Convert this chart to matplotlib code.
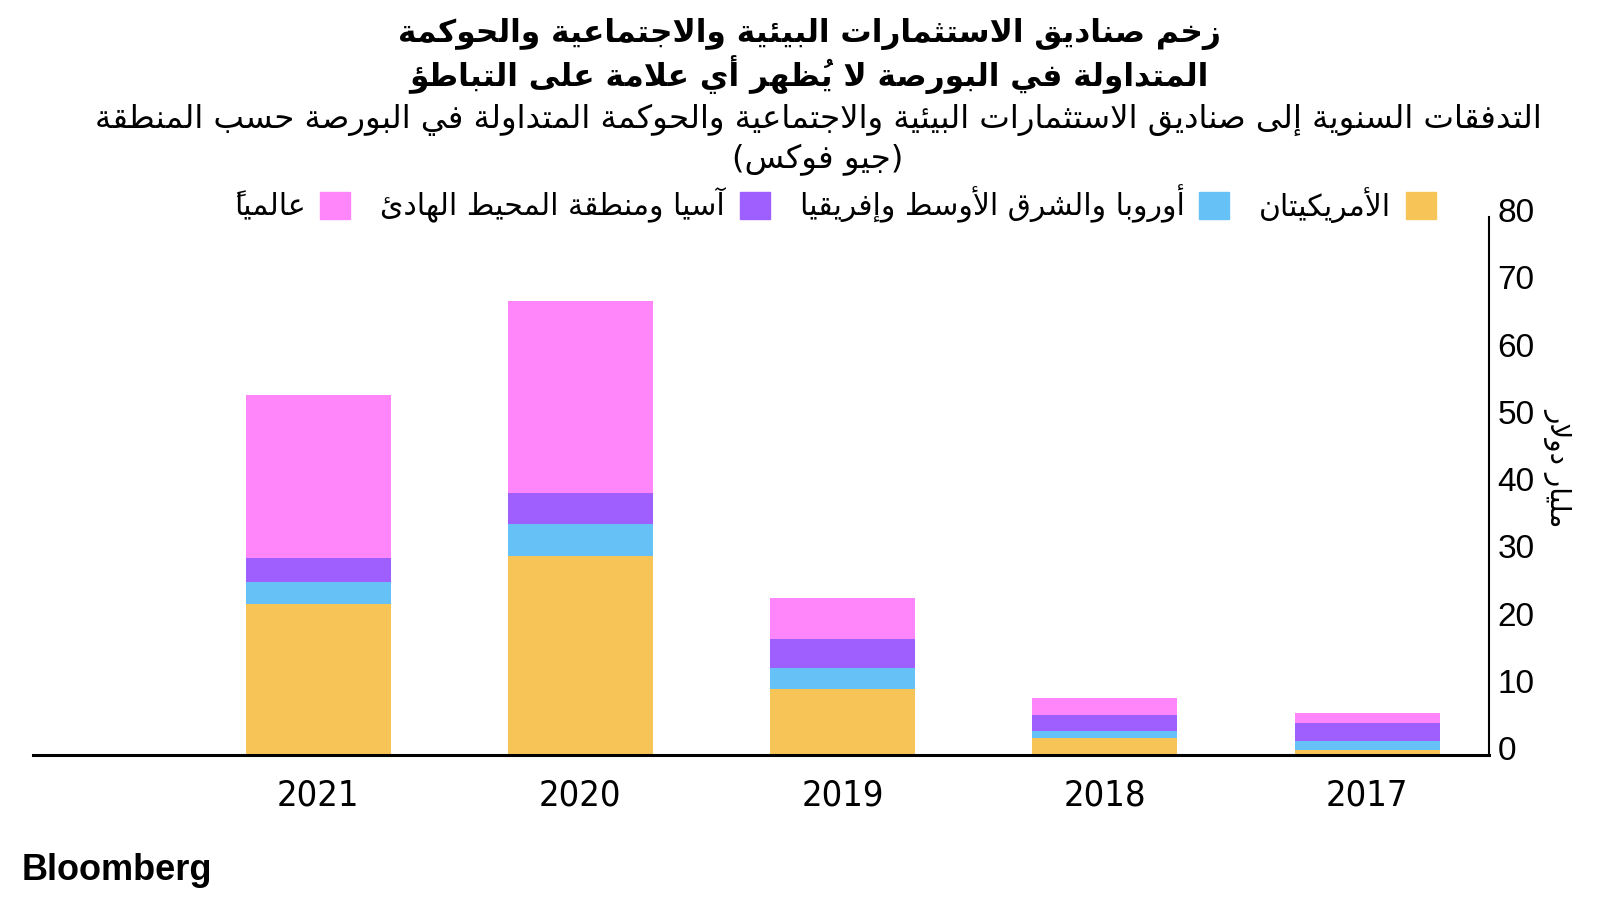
import matplotlib
matplotlib.use('Agg')
import matplotlib.pyplot as plt
from matplotlib.patches import Patch
from matplotlib.transforms import ScaledTranslation

# data (US$ billions)
years = ['2021', '2020', '2019', '2018', '2017']
americas = [22.5, 29.6, 9.8, 2.5, 0.8]
emea = [3.2, 4.7, 3.1, 1.1, 1.3]
apac = [3.6, 4.7, 4.3, 2.4, 2.7]
global_ = [24.2, 28.5, 6.1, 2.5, 1.5]

series_names = ['الأمريكيتان', 'أوروبا والشرق الأوسط وإفريقيا',
                'آسيا ومنطقة المحيط الهادئ', 'عالمياً']
colors = ['#F7C457', '#66C1F6', '#9F5FFE', '#FF85FA']

title_lines = ['زخم صناديق الاستثمارات البيئية والاجتماعية والحوكمة',
               'المتداولة في البورصة لا يُظهر أي علامة على التباطؤ']
subtitle_lines = ['التدفقات السنوية إلى صناديق الاستثمارات البيئية والاجتماعية والحوكمة المتداولة في البورصة حسب المنطقة',
                  '(جيو فوكس)']
ylabel = 'مليار دولار'

# --- minimal arabic shaping (matplotlib has no bidi / shaping) ---
FORMS = {}
for ch, start, cnt in [('ء', 0xFE80, 1), ('آ', 0xFE81, 2), ('أ', 0xFE83, 2), ('ؤ', 0xFE85, 2),
                       ('إ', 0xFE87, 2), ('ئ', 0xFE89, 4), ('ا', 0xFE8D, 2), ('ب', 0xFE8F, 4),
                       ('ة', 0xFE93, 2), ('ت', 0xFE95, 4), ('ث', 0xFE99, 4), ('ج', 0xFE9D, 4),
                       ('ح', 0xFEA1, 4), ('خ', 0xFEA5, 4), ('د', 0xFEA9, 2), ('ذ', 0xFEAB, 2),
                       ('ر', 0xFEAD, 2), ('ز', 0xFEAF, 2), ('س', 0xFEB1, 4), ('ش', 0xFEB5, 4),
                       ('ص', 0xFEB9, 4), ('ض', 0xFEBD, 4), ('ط', 0xFEC1, 4), ('ظ', 0xFEC5, 4),
                       ('ع', 0xFEC9, 4), ('غ', 0xFECD, 4), ('ف', 0xFED1, 4), ('ق', 0xFED5, 4),
                       ('ك', 0xFED9, 4), ('ل', 0xFEDD, 4), ('م', 0xFEE1, 4), ('ن', 0xFEE5, 4),
                       ('ه', 0xFEE9, 4), ('و', 0xFEED, 2), ('ى', 0xFEEF, 2), ('ي', 0xFEF1, 4)]:
    FORMS[ch] = (start, cnt)
LAM_ALEF = {'آ': 0xFEF5, 'أ': 0xFEF7, 'إ': 0xFEF9, 'ا': 0xFEFB}


def is_mark(ch):
    return '\u064B' <= ch <= '\u0652'


def shape(text):
    chars = list(text)
    n = len(chars)
    out = []
    prev_dual = False
    i = 0
    while i < n:
        ch = chars[i]
        if is_mark(ch):
            out.append(ch)
            i += 1
            continue
        if ch not in FORMS:
            out.append(ch)
            prev_dual = False
            i += 1
            continue
        j = i + 1
        while j < n and is_mark(chars[j]):
            j += 1
        nxt = chars[j] if j < n else ''
        if ch == 'ل' and nxt in LAM_ALEF:
            out.append(chr(LAM_ALEF[nxt] + (1 if prev_dual else 0)))
            out.extend(chars[i + 1:j])
            prev_dual = False
            i = j + 1
            continue
        start, cnt = FORMS[ch]
        joins_next = cnt == 4 and nxt in FORMS and FORMS[nxt][1] > 1
        if cnt == 1:
            form = 0
        elif prev_dual and joins_next:
            form = 3
        elif prev_dual:
            form = 1
        elif joins_next:
            form = 2
        else:
            form = 0
        out.append(chr(start + form))
        prev_dual = cnt == 4
        i += 1
    # visual order (left to right); marks end up just before their base,
    # which is where the zero-width mark glyph lands on top of it
    mirror = {'(': ')', ')': '('}
    return ''.join(mirror.get(c, c) for c in reversed(out))


plt.rcParams['font.family'] = ['DejaVu Sans']

fig = plt.figure(figsize=(16, 9), dpi=100)
ax = fig.add_axes([33 / 1600, 145 / 900, 1456 / 1600, 538 / 900])

x = range(len(years))
bottom = [0] * len(years)
for vals, c in zip([americas, emea, apac, global_], colors):
    ax.bar(x, vals, bottom=bottom, width=0.553, color=c, linewidth=0)
    bottom = [b + v for b, v in zip(bottom, vals)]

ax.set_xlim(-1.087, 4.465)
ax.set_ylim(0, 80)
ax.set_xticks(list(x))
ax.set_xticklabels(years, fontsize=26, fontstretch='condensed')
ax.tick_params(axis='x', length=0, pad=17)
ax.yaxis.tick_right()
ax.set_yticks(range(0, 81, 10))
ax.tick_params(axis='y', length=0, pad=6, labelsize=24)
for lab in ax.get_yticklabels():
    lab.set_family(['Liberation Sans', 'DejaVu Sans'])
    lab.set_transform(lab.get_transform() + ScaledTranslation(0, 5 / 72, fig.dpi_scale_trans))

for s in ['top', 'left']:
    ax.spines[s].set_visible(False)
ax.spines['bottom'].set_linewidth(2.2)
ax.spines['right'].set_linewidth(1.5)

ax.yaxis.set_label_position('right')
ax.set_ylabel(shape(ylabel), fontsize=20, rotation=-90)
ax.yaxis.set_label_coords(1.057, 0.535)

# titles
fig.text(809 / 1600, 1 - 34 / 900, shape(title_lines[0]), ha='center', va='center',
         fontsize=22.5, fontweight='bold')
fig.text(809 / 1600, 1 - 75 / 900, shape(title_lines[1]), ha='center', va='center',
         fontsize=22.5, fontweight='bold')
fig.text(818 / 1600, 1 - 120 / 900, shape(subtitle_lines[0]), ha='center', va='center', fontsize=23.3)
fig.text(818 / 1600, 1 - 160 / 900, shape(subtitle_lines[1]), ha='center', va='center', fontsize=23.3)

# legend, right-to-left
handles = [Patch(color=c) for c in colors][::-1]
labels = [shape(s) for s in series_names][::-1]
fig.legend(handles, labels, ncol=4, loc='center right', bbox_to_anchor=(1436 / 1600, 1 - 204 / 900),
           frameon=False, markerfirst=False, fontsize=21.5, handlelength=1.0, handleheight=1.0,
           handletextpad=0.5, columnspacing=1.0, borderpad=0, borderaxespad=0)

fig.text(22 / 1600, 1 - 870 / 900, 'Bloomberg', fontsize=26, fontweight='bold',
         family=['Liberation Sans', 'DejaVu Sans'], va='center', ha='left')

fig.savefig('out.png', dpi=100)
